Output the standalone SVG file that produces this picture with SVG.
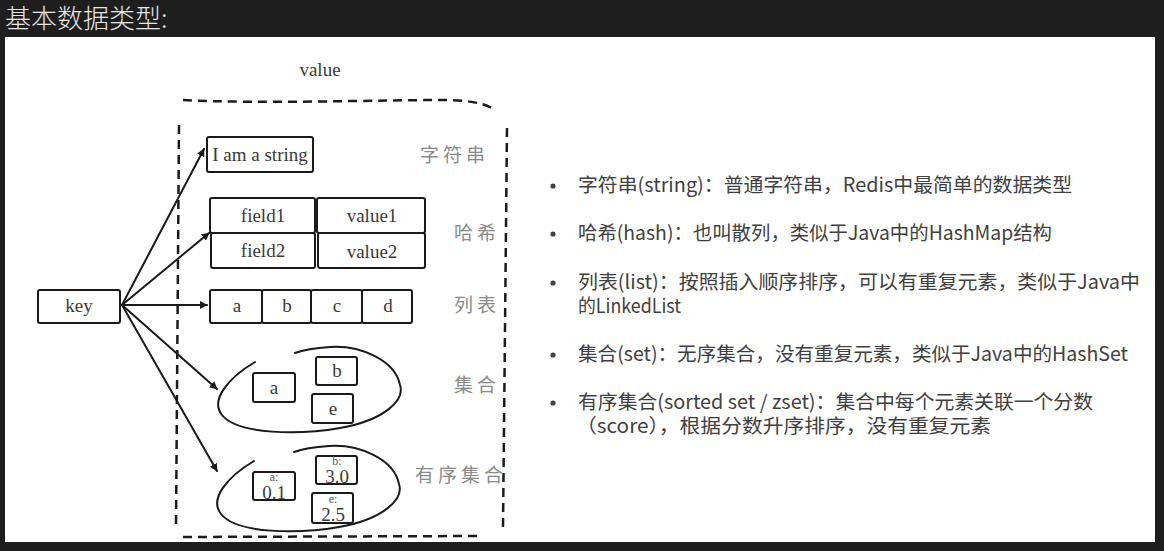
<svg xmlns="http://www.w3.org/2000/svg" width="1164" height="551" viewBox="0 0 1164 551">
<defs>
<style>
.sk{fill:none;stroke:#1a1a1a;stroke-width:2;stroke-linejoin:round;stroke-linecap:round}
.box{fill:#fff;stroke:#1a1a1a;stroke-width:2}
.dash{fill:none;stroke:#1a1a1a;stroke-width:2.5;stroke-dasharray:9 6}
.en{font-family:"Liberation Serif",serif;font-size:19px;fill:#3a3a3a;text-anchor:middle}
.sm{font-family:"Liberation Serif",serif;font-size:12px;fill:#555;text-anchor:middle}
.cn{font-family:"Noto Sans CJK SC",sans-serif;font-size:19px;fill:#8a8a8a;letter-spacing:4px}
.tx{font-family:"Noto Sans CJK SC",sans-serif;font-size:19.5px;fill:#404040}
.bu{fill:#404040}
</style>
<marker id="ah" viewBox="0 0 10 10" refX="9" refY="5" markerWidth="8" markerHeight="8" markerUnits="userSpaceOnUse" orient="auto">
<path d="M0 0 L10 5 L0 10 Z" fill="#1a1a1a"/>
</marker>
<path id="loop" d="M255 362 C228 378 210 400 222 415 C238 435 300 435 340 428 C385 420 405 400 400 385 C395 360 360 345 330 347 C315 348 303 350 295 353"/>
</defs>
<rect x="0" y="0" width="1164" height="551" fill="#1e1e1e"/>
<rect x="5" y="37" width="1150" height="505" fill="#ffffff"/>
<text x="5" y="28" font-family="'Noto Sans CJK SC',sans-serif" font-size="26" font-weight="300" fill="#e6e6e6">基本数据类型:</text>

<g id="frame">
<text class="en" x="320" y="76">value</text>
<path class="dash" d="M183 100 C260 104 380 100 440 100 C465 100 480 102 492 108"/>
<path class="dash" d="M179 125 L176 528"/>
<path class="dash" d="M507 128 L503 528"/>
<path class="dash" d="M183 537 L478 536"/>
</g>

<g id="connectors">
<path class="sk" d="M122 305 L204 149" marker-end="url(#ah)"/>
<path class="sk" d="M122 305 L209 233" marker-end="url(#ah)"/>
<path class="sk" d="M122 305 L207 305" marker-end="url(#ah)"/>
<path class="sk" d="M122 305 L217 389" marker-end="url(#ah)"/>
<path class="sk" d="M122 305 L217 471" marker-end="url(#ah)"/>
</g>

<g id="key">
<rect class="box" x="38" y="290" width="82" height="33" rx="2"/>
<text class="en" x="79" y="312" fill="#555">key</text>
</g>

<g id="string">
<rect class="box" x="207" y="137" width="106" height="35" rx="2"/>
<text class="en" x="260" y="161">I am a string</text>
<text class="cn" x="420" y="162">字符串</text>
</g>

<g id="hash">
<rect class="box" x="210" y="198" width="105" height="35" rx="2"/>
<rect class="box" x="317" y="198" width="108" height="35" rx="2"/>
<rect class="box" x="211" y="233" width="104" height="35" rx="2"/>
<rect class="box" x="318" y="233" width="107" height="35" rx="2"/>
<text class="en" x="263" y="222">field1</text>
<text class="en" x="372" y="222">value1</text>
<text class="en" x="263" y="257">field2</text>
<text class="en" x="372" y="258">value2</text>
<text class="cn" x="454" y="240">哈希</text>
</g>

<g id="list">
<rect class="box" x="210" y="290" width="52" height="33" rx="2"/>
<rect class="box" x="262" y="290" width="49" height="33" rx="2"/>
<rect class="box" x="311" y="290" width="51" height="33" rx="2"/>
<rect class="box" x="362" y="290" width="50" height="33" rx="2"/>
<text class="en" x="237" y="312">a</text>
<text class="en" x="287" y="312">b</text>
<text class="en" x="337" y="312">c</text>
<text class="en" x="388" y="312">d</text>
<text class="cn" x="454" y="312">列表</text>
</g>

<g id="set">
<use href="#loop" class="sk"/>
<rect class="box" x="253" y="373" width="42" height="29" rx="2"/>
<rect class="box" x="316" y="357" width="41" height="28" rx="2"/>
<rect class="box" x="312" y="394" width="41" height="29" rx="2"/>
<text class="en" x="274" y="394">a</text>
<text class="en" x="337" y="377">b</text>
<text class="en" x="333" y="415">e</text>
<text class="cn" x="454" y="392">集合</text>
</g>

<g id="zset">
<use href="#loop" class="sk" transform="translate(-1 99)"/>
<rect class="box" x="253" y="472" width="42" height="28" rx="2"/>
<rect class="box" x="316" y="456" width="41" height="28" rx="2"/>
<rect class="box" x="312" y="493" width="41" height="30" rx="2"/>
<text class="sm" x="274" y="481">a:</text>
<text class="en" x="274" y="499">0.1</text>
<text class="sm" x="337" y="465">b:</text>
<text class="en" x="337" y="483">3.0</text>
<text class="sm" x="333" y="503">e:</text>
<text class="en" x="333" y="521">2.5</text>
<text class="cn" x="415" y="482">有序集合</text>
</g>

<g id="notes">
<circle class="bu" cx="553" cy="186" r="2.6"/>
<text class="tx" x="578" y="192" textLength="494" lengthAdjust="spacingAndGlyphs">字符串(string)：普通字符串，Redis中最简单的数据类型</text>
<circle class="bu" cx="553" cy="234" r="2.6"/>
<text class="tx" x="578" y="240" textLength="474" lengthAdjust="spacingAndGlyphs">哈希(hash)：也叫散列，类似于Java中的HashMap结构</text>
<circle class="bu" cx="553" cy="283" r="2.6"/>
<text class="tx" x="578" y="289" textLength="562" lengthAdjust="spacingAndGlyphs">列表(list)：按照插入顺序排序，可以有重复元素，类似于Java中</text>
<text class="tx" x="578" y="313" textLength="103" lengthAdjust="spacingAndGlyphs">的LinkedList</text>
<circle class="bu" cx="553" cy="355" r="2.6"/>
<text class="tx" x="578" y="361" textLength="550" lengthAdjust="spacingAndGlyphs">集合(set)：无序集合，没有重复元素，类似于Java中的HashSet</text>
<circle class="bu" cx="553" cy="403" r="2.6"/>
<text class="tx" x="578" y="409" textLength="515" lengthAdjust="spacingAndGlyphs">有序集合(sorted set / zset)：集合中每个元素关联一个分数</text>
<text class="tx" x="576" y="433" textLength="415" lengthAdjust="spacingAndGlyphs">（score），根据分数升序排序，没有重复元素</text>
</g>
</svg>
